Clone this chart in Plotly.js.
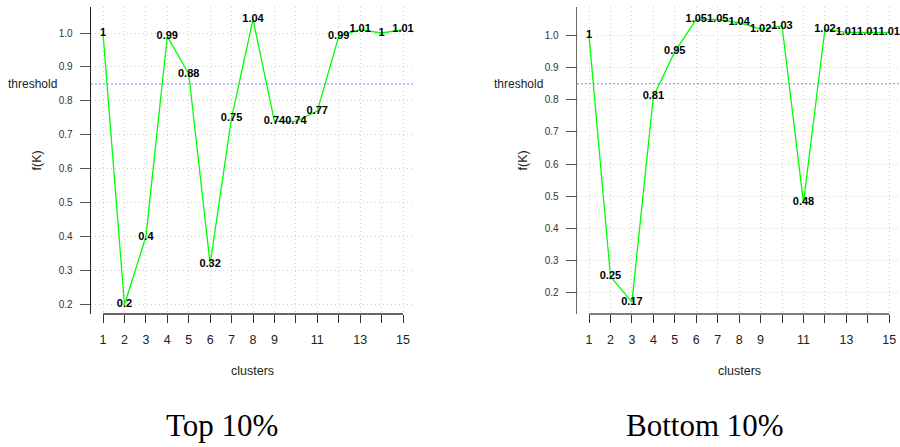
<!DOCTYPE html>
<html>
<head>
<meta charset="utf-8">
<script src="https://cdn.plot.ly/plotly-3.0.1.min.js"></script>
<style>html,body{margin:0;padding:0;background:#fff;}#chart{width:900px;height:447px;}</style>
</head>
<body>
<div id="chart"></div>
<script>
// ---- data ----
const clusters = [1,2,3,4,5,6,7,8,9,10,11,12,13,14,15];
const topValues = [1, 0.2, 0.4, 0.99, 0.88, 0.32, 0.75, 1.04, 0.74, 0.74, 0.77, 0.99, 1.01, 1, 1.01];
const bottomValues = [1, 0.25, 0.17, 0.81, 0.95, 1.05, 1.05, 1.04, 1.02, 1.03, 0.48, 1.02, 1.01, 1.01, 1.01];
const xTickLabels = ['1','2','3','4','5','6','7','8','9','','11','','13','','15'];
const yTickVals = [0.2,0.3,0.4,0.5,0.6,0.7,0.8,0.9,1.0];
const yTickLabels = ['0.2','0.3','0.4','0.5','0.6','0.7','0.8','0.9','1.0'];
const thresholdValue = 0.85;
const captions = ['Top 10%', 'Bottom 10%'];

const W = 900, H = 447;
const sans = 'Liberation Sans, Arial, sans-serif';
const yTickFont = {family: sans, size: 10, color: '#333'};
const xTickFont = {family: sans, size: 12.5, color: '#222'};
const labelFont = {family: sans, size: 11, color: '#000', weight: 'bold'};
const titleFont = {family: sans, size: 12.5, color: '#222'};
const gridColor = '#cfcfcf';
const gridDash = '1px,3px';

function fmt(v){ return String(Math.round(v*100)/100); }

const traces = [
  {x: clusters, y: topValues, xaxis: 'x', yaxis: 'y', mode: 'lines+text',
   line: {color: '#00ff00', width: 1.3}, text: topValues.map(fmt),
   textposition: 'middle center', textfont: labelFont, hoverinfo: 'skip', cliponaxis: false},
  {x: clusters, y: bottomValues, xaxis: 'x2', yaxis: 'y2', mode: 'lines+text',
   line: {color: '#00ff00', width: 1.3}, text: bottomValues.map(fmt),
   textposition: 'middle center', textfont: labelFont, hoverinfo: 'skip', cliponaxis: false}
];

const yDom = [1 - 314/H, 1 - 7/H];
function xAxis(dom, range, anchor){
  return {domain: dom, range: range, anchor: anchor, tickmode: 'array', tickvals: clusters, ticktext: xTickLabels,
    showline: false, zeroline: false, showgrid: true, gridcolor: gridColor, griddash: gridDash, gridwidth: 1,
    ticks: 'outside', ticklen: 8, tickcolor: '#333', tickwidth: 1, tickfont: xTickFont, ticklabelstandoff: 6};
}
function yAxis(range, anchor, lineColor){
  return {domain: yDom, range: range, anchor: anchor, tickmode: 'array', tickvals: yTickVals, ticktext: yTickLabels,
    showline: true, linecolor: lineColor, linewidth: 1.3, zeroline: false, showgrid: true, gridcolor: gridColor, griddash: gridDash, gridwidth: 1,
    ticks: 'outside', ticklen: 10, tickcolor: '#555', tickwidth: 1, tickfont: yTickFont, ticklabelstandoff: 5};
}

const layout = {
  width: W, height: H, margin: {l: 0, r: 0, t: 0, b: 0}, paper_bgcolor: '#fff', plot_bgcolor: '#fff', showlegend: false,
  xaxis: xAxis([91/W, 415/W], [0.44, 15.56], 'y'),
  yaxis: yAxis([0.1726, 1.0766], 'x', '#222'),
  xaxis2: xAxis([577/W, 1], [0.44, 15.5], 'y2'),
  yaxis2: yAxis([0.133, 1.089], 'x2', '#666'),
  shapes: [
    {type: 'line', xref: 'x', yref: 'y domain', x0: clusters[0], x1: clusters[clusters.length-1], y0: 0, y1: 0, line: {color: '#333', width: 1.3}},
    {type: 'line', xref: 'x2', yref: 'y2 domain', x0: clusters[0], x1: clusters[clusters.length-1], y0: 0, y1: 0, line: {color: '#555', width: 1.3}},
    {type: 'line', xref: 'x domain', yref: 'y', x0: 0, x1: 1, y0: thresholdValue, y1: thresholdValue, line: {color: '#7f7fff', width: 1, dash: '2px,2px'}},
    {type: 'line', xref: 'x2 domain', yref: 'y2', x0: 0, x1: 1, y0: thresholdValue, y1: thresholdValue, line: {color: '#7f7fff', width: 1, dash: '2px,2px'}}
  ],
  annotations: [
    {text: 'threshold', xref: 'paper', yref: 'y', x: 59/W, y: thresholdValue, xanchor: 'right', yanchor: 'middle', showarrow: false, font: {family: sans, size: 12, color: '#222'}},
    {text: 'threshold', xref: 'paper', yref: 'y2', x: 545/W, y: thresholdValue, xanchor: 'right', yanchor: 'middle', showarrow: false, font: {family: sans, size: 12, color: '#222'}},
    {text: 'f(K)', xref: 'paper', yref: 'paper', x: 36/W, y: 1 - 160.5/H, textangle: -90, xanchor: 'center', yanchor: 'middle', showarrow: false, font: titleFont},
    {text: 'f(K)', xref: 'paper', yref: 'paper', x: 522/W, y: 1 - 160.5/H, textangle: -90, xanchor: 'center', yanchor: 'middle', showarrow: false, font: titleFont},
    {text: 'clusters', xref: 'paper', yref: 'paper', x: 253/W, y: 1 - 370.5/H, xanchor: 'center', yanchor: 'middle', showarrow: false, font: titleFont},
    {text: 'clusters', xref: 'paper', yref: 'paper', x: 739/W, y: 1 - 370.5/H, xanchor: 'center', yanchor: 'middle', showarrow: false, font: titleFont},
    {text: captions[0], xref: 'paper', yref: 'paper', x: 221.5/W, y: 1 - 425/H, xanchor: 'center', yanchor: 'middle', showarrow: false, font: {family: 'Liberation Serif, Times New Roman, serif', size: 31, color: '#000'}},
    {text: captions[1], xref: 'paper', yref: 'paper', x: 705/W, y: 1 - 425/H, xanchor: 'center', yanchor: 'middle', showarrow: false, font: {family: 'Liberation Serif, Times New Roman, serif', size: 31, color: '#000'}}
  ]
};

Plotly.newPlot('chart', traces, layout, {staticPlot: true, displayModeBar: false});
</script>
</body>
</html>
